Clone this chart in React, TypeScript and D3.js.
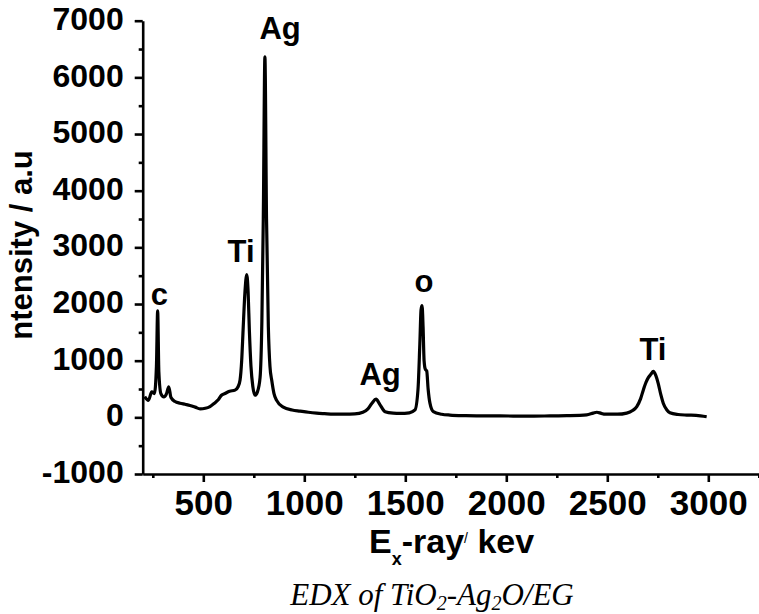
import React, { useEffect, useRef } from 'react';
import * as d3 from 'd3';

// EDX spectrum
const energy = [
  210, 228, 245, 258, 268, 274, 280, 290, 305, 318, 329, 340, 360, 385, 410, 434, 460, 484, 510, 533,
  555, 574, 590, 607, 630, 657, 672, 682, 690, 697, 706, 715, 722, 728, 736, 745, 756, 768, 781, 790,
  797, 805, 813, 822, 830, 839, 850, 863, 896, 940, 979, 1020, 1061, 1100, 1144, 1200, 1250, 1290, 1315, 1335,
  1355, 1375, 1400, 1440, 1474, 1520, 1548, 1563, 1572, 1578, 1583, 1588, 1593, 1599, 1606, 1613, 1622, 1639, 1680, 1721,
  1800, 1900, 1969, 2100, 2216, 2300, 2398, 2430, 2448, 2470, 2489, 2550, 2596, 2625, 2646, 2665, 2678, 2692, 2703, 2716,
  2728, 2740, 2752, 2765, 2777, 2795, 2810, 2850, 2893, 2940, 2992,
];
const intensity = [
  365, 300, 450, 420, 900, 1880, 800, 420, 360, 420, 540, 350, 280, 250, 230, 210, 180, 150, 160, 190,
  250, 310, 390, 420, 460, 480, 540, 660, 1000, 1540, 2200, 2520, 2200, 1540, 900, 550, 390, 450, 700, 1700,
  3500, 6360, 3500, 1600, 900, 650, 420, 300, 180, 130, 110, 90, 75, 65, 55, 55, 60, 90, 150, 250,
  320, 220, 100, 75, 70, 80, 130, 500, 1300, 1900, 1970, 1600, 1000, 850, 820, 500, 250, 100, 55, 40,
  30, 25, 25, 20, 25, 30, 45, 75, 90, 70, 55, 55, 75, 120, 190, 330, 480, 620, 700, 760,
  810, 740, 600, 400, 250, 130, 80, 50, 40, 35, 10,
];

const xMajor = [500, 1000, 1500, 2000, 2500, 3000];
const xMinor = [250, 750, 1250, 1750, 2250, 2750, 3250];
const yMajor = [-1000, 0, 1000, 2000, 3000, 4000, 5000, 6000, 7000];
const yMinor = [-500, 500, 1500, 2500, 3500, 4500, 5500, 6500];

// peak labels (energy, intensity of the label baseline)
const peakText = ['Ag', 'c', 'Ti', 'Ag', 'o', 'Ti'];
const peakE = [880, 283, 687, 1375, 1593, 2726];
const peakI = [6677, 1983, 2742, 572, 2213, 1013];

export default function App() {
  const ref = useRef<SVGSVGElement>(null);

  useEffect(() => {
    const svg = d3.select(ref.current);
    svg.selectAll('*').remove();

    const x = d3.scaleLinear().domain([200, 3250]).range([142.7, 758.8]);
    const y = d3.scaleLinear().domain([-1000, 7000]).range([474, 20.7]);
    const bold = "'Liberation Sans', Arial, sans-serif";
    const fmt = (d: d3.NumberValue) => String(d);

    // x axis
    const xAxis = svg.append('g').attr('transform', 'translate(0,474)');
    xAxis.call(d3.axisBottom(x).tickValues(xMajor).tickSize(8).tickSizeOuter(0).tickPadding(8).tickFormat(fmt));
    xAxis.append('g').call(d3.axisBottom(x).tickValues(xMinor).tickSize(4).tickFormat(() => '')).select('.domain').remove();
    xAxis.selectAll('text').attr('font-family', bold).attr('font-weight', 'bold').attr('font-size', 35).attr('fill', '#000');

    // y axis
    const yAxis = svg.append('g').attr('transform', 'translate(142.7,0)');
    yAxis.call(d3.axisLeft(y).tickValues(yMajor).tickSize(8).tickSizeOuter(0).tickPadding(11).tickFormat(fmt));
    yAxis.append('g').call(d3.axisLeft(y).tickValues(yMinor).tickSize(4).tickFormat(() => '')).select('.domain').remove();
    yAxis.selectAll('text').attr('font-family', bold).attr('font-weight', 'bold').attr('font-size', 32).attr('fill', '#000').attr('dy', '0.27em');

    svg.selectAll('.domain, .tick line').attr('stroke', '#000').attr('stroke-width', 2.6);

    // spectrum
    const pts = energy.map((e, i) => [e, intensity[i]] as [number, number]);
    const line = d3.line<[number, number]>()
      .x(d => x(d[0]))
      .y(d => y(d[1]))
      .curve(d3.curveMonotoneX);
    svg.append('path')
      .datum(pts)
      .attr('d', line)
      .attr('fill', 'none')
      .attr('stroke', '#000')
      .attr('stroke-width', 3.2)
      .attr('stroke-linejoin', 'round');

    // peak labels
    peakText.forEach((t, i) => {
      svg.append('text')
        .attr('x', x(peakE[i]))
        .attr('y', y(peakI[i]))
        .attr('text-anchor', 'middle')
        .attr('font-family', bold)
        .attr('font-weight', 'bold')
        .attr('font-size', 31)
        .text(t);
    });

    // y title
    svg.append('text')
      .attr('transform', 'translate(32,245) rotate(-90)')
      .attr('text-anchor', 'middle')
      .attr('font-family', bold)
      .attr('font-weight', 'bold')
      .attr('font-size', 31)
      .text('ntensity / a.u');

    // x title
    const xt = svg.append('text')
      .attr('x', 369)
      .attr('y', 553)
      .attr('font-family', bold)
      .attr('font-weight', 'bold')
      .attr('font-size', 34);
    xt.append('tspan').text('E');
    xt.append('tspan').attr('font-size', 18).attr('dy', 12).text('x');
    xt.append('tspan').attr('dy', -12).text('-ray');
    xt.append('tspan').attr('font-size', 14).attr('font-weight', 'normal').attr('dy', -10).text('/');
    xt.append('tspan').attr('dy', 10).text(' kev');

    // caption
    const cap = svg.append('text')
      .attr('x', 432)
      .attr('y', 605)
      .attr('text-anchor', 'middle')
      .attr('font-family', "'Liberation Serif', 'Times New Roman', serif")
      .attr('font-style', 'italic')
      .attr('font-size', 31);
    cap.append('tspan').text('EDX of TiO');
    cap.append('tspan').attr('font-size', 20).attr('dy', 5).text('2');
    cap.append('tspan').attr('dy', -5).text('-Ag');
    cap.append('tspan').attr('font-size', 20).attr('dy', 5).text('2');
    cap.append('tspan').attr('dy', -5).text('O/EG');
  }, []);

  return (
    <svg
      ref={ref}
      width={759}
      height={614}
      style={{ position: 'absolute', left: 0, top: 0, background: '#fff' }}
    />
  );
}
